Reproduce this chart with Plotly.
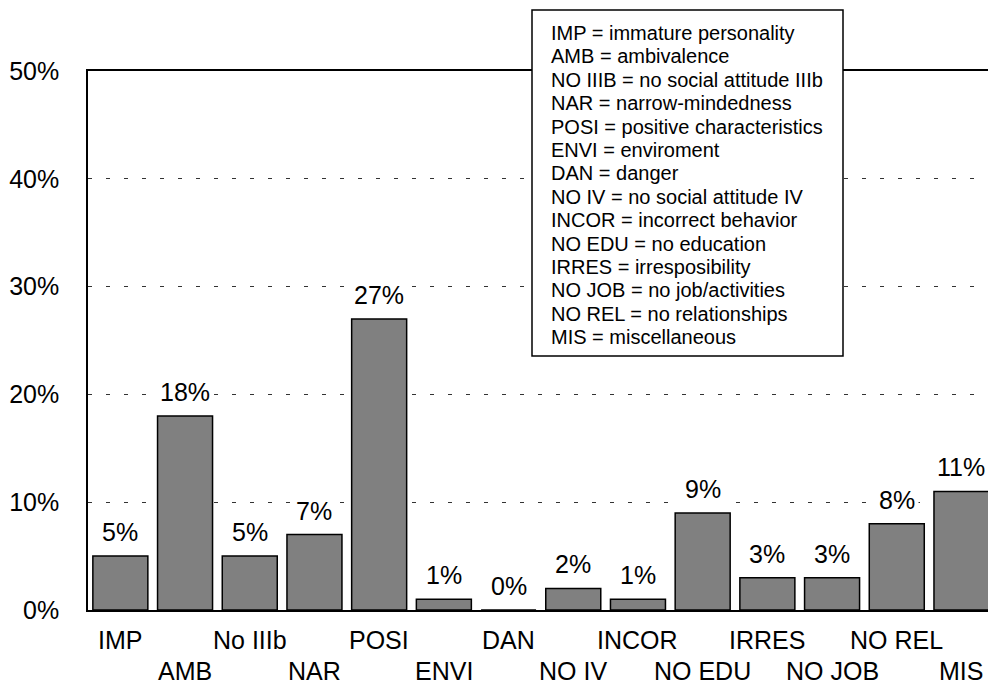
import plotly.graph_objects as go

# Category codes shown under the bars and their shares (%)
categories = ["IMP", "AMB", "No IIIb", "NAR", "POSI", "ENVI", "DAN",
              "NO IV", "INCOR", "NO EDU", "IRRES", "NO JOB", "NO REL", "MIS"]
values = [5, 18, 5, 7, 27, 1, 0, 2, 1, 9, 3, 3, 8, 11]

# Y axis ticks
y_ticks = [0, 10, 20, 30, 40, 50]
y_tick_labels = ["0%", "10%", "20%", "30%", "40%", "50%"]

# Key explaining the abbreviations
key_lines = [
    "IMP = immature personality",
    "AMB = ambivalence",
    "NO IIIB = no social attitude IIIb",
    "NAR = narrow-mindedness",
    "POSI = positive characteristics",
    "ENVI = enviroment",
    "DAN = danger",
    "NO IV = no social attitude IV",
    "INCOR = incorrect behavior",
    "NO EDU = no education",
    "IRRES = irresposibility",
    "NO JOB = no job/activities",
    "NO REL = no relationships",
    "MIS = miscellaneous",
]

W, H = 988, 685
ML, MR, MT, MB = 88, 0, 71, 75
PW, PH = W - ML - MR, H - MT - MB
FONT = "Liberation Sans, Arial, sans-serif"


def px_x(px):
    return (px - ML) / PW


def px_y(py):
    return (H - MB - py) / PH


x_idx = list(range(len(categories)))

fig = go.Figure()
fig.add_trace(go.Bar(
    x=x_idx, y=values, width=0.85,
    marker=dict(color="#808080", line=dict(color="black", width=1.5)),
    hoverinfo="skip",
))

annotations = []
# value labels above bars
for i, v in zip(x_idx, values):
    annotations.append(dict(
        x=i, y=v, xref="x", yref="y", text=f"{v}%", showarrow=False,
        yanchor="middle", yshift=24, bgcolor="white", borderpad=3,
        font=dict(family=FONT, size=25, color="black"),
    ))

# category labels in two staggered rows
for i, name in zip(x_idx, categories):
    annotations.append(dict(
        x=i, y=0, xref="x", yref="paper", text=name, showarrow=False,
        yanchor="middle", yshift=-30 if i % 2 == 0 else -61,
        borderpad=0,
        font=dict(family=FONT, size=25, color="black"),
    ))

# key text, one line per entry
for k, line in enumerate(key_lines):
    annotations.append(dict(
        x=px_x(550), y=px_y(33 + 23.4 * k), xref="paper", yref="paper",
        text=line, showarrow=False, xanchor="left", yanchor="middle",
        borderpad=0, font=dict(family=FONT, size=20, color="black"),
    ))

shapes = [dict(
    type="rect", xref="paper", yref="paper", layer="above",
    x0=px_x(532), x1=px_x(843), y0=px_y(356), y1=px_y(10),
    line=dict(color="black", width=1.5), fillcolor="white",
)]

fig.update_layout(
    width=W, height=H,
    margin=dict(l=ML, r=MR, t=MT, b=MB, pad=0),
    paper_bgcolor="white", plot_bgcolor="white",
    showlegend=False,
    font=dict(family=FONT, size=25, color="black"),
    annotations=annotations, shapes=shapes,
    bargap=0.15,
)
fig.update_xaxes(
    range=[-0.5, 13.41], showticklabels=False, ticks="",
    showgrid=False, zeroline=False,
    showline=True, linecolor="black", linewidth=1.5, mirror=True,
)
fig.update_yaxes(
    range=[0, 50], tickmode="array", tickvals=y_ticks, ticktext=y_tick_labels,
    ticks="", ticklabelstandoff=22,
    showgrid=True, gridcolor="#333333", gridwidth=1, griddash="4px,14px",
    zeroline=False, showline=True, linecolor="black", linewidth=1.5,
    tickfont=dict(family=FONT, size=25, color="black"),
)

fig.write_html("out.html")
